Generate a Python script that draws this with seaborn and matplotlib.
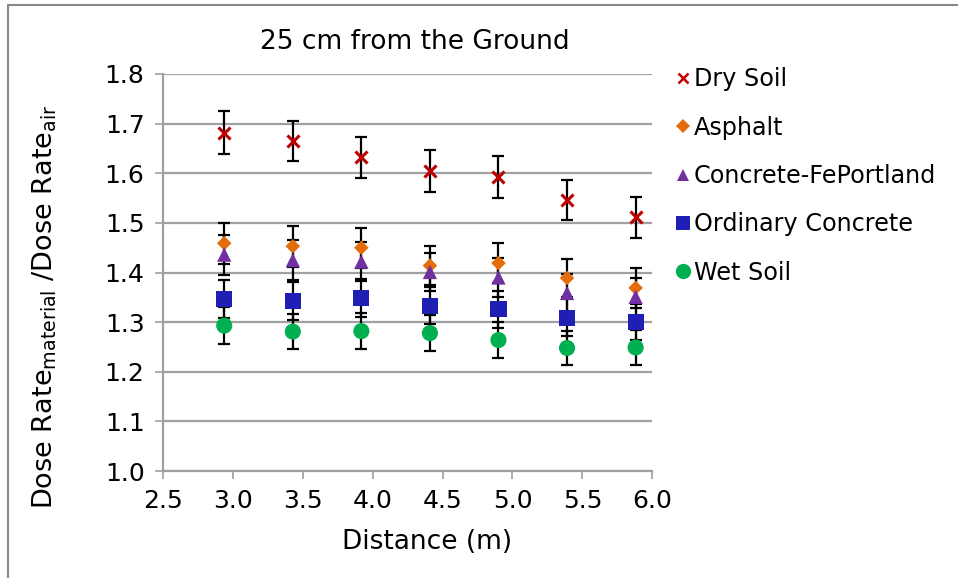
import matplotlib
matplotlib.use("Agg")
import matplotlib.pyplot as plt
from matplotlib.lines import Line2D
import seaborn as sns
import pandas as pd

distance = [2.94, 3.43, 3.92, 4.41, 4.90, 5.39, 5.88]
series_names = ["Dry Soil", "Asphalt", "Concrete-FePortland", "Ordinary Concrete", "Wet Soil"]
dry_soil = [1.682, 1.665, 1.632, 1.605, 1.593, 1.546, 1.511]
dry_soil_err = [0.043, 0.041, 0.041, 0.042, 0.042, 0.041, 0.042]
asphalt = [1.459, 1.453, 1.450, 1.414, 1.419, 1.389, 1.369]
asphalt_err = [0.041, 0.041, 0.040, 0.040, 0.040, 0.039, 0.040]
concrete_fe = [1.436, 1.425, 1.422, 1.401, 1.390, 1.359, 1.351]
concrete_fe_err = [0.040, 0.040, 0.040, 0.039, 0.039, 0.038, 0.038]
ordinary_concrete = [1.346, 1.342, 1.348, 1.333, 1.326, 1.309, 1.300]
ordinary_concrete_err = [0.038, 0.038, 0.038, 0.037, 0.037, 0.037, 0.036]
wet_soil = [1.293, 1.281, 1.282, 1.278, 1.264, 1.248, 1.249]
wet_soil_err = [0.037, 0.036, 0.037, 0.036, 0.036, 0.035, 0.036]

values = [dry_soil, asphalt, concrete_fe, ordinary_concrete, wet_soil]
errors = [dry_soil_err, asphalt_err, concrete_fe_err, ordinary_concrete_err, wet_soil_err]
colors = ["#C00000", "#E46C0A", "#7030A0", "#1F1FB4", "#00B050"]
markers = ["x", "D", "^", "s", "o"]
sizes = [75, 55, 105, 135, 135]

rows = []
for name, vals, errs in zip(series_names, values, errors):
    for d, v, e in zip(distance, vals, errs):
        rows.append({"Distance": d, "Value": v, "Err": e, "Material": name})
df = pd.DataFrame(rows)

sns.set_theme(style="white")
plt.rcParams["font.family"] = ["DejaVu Sans"]
plt.rcParams["mathtext.default"] = "regular"
for key in ["text.color", "axes.labelcolor", "xtick.labelcolor", "ytick.labelcolor"]:
    plt.rcParams[key] = "black"

fig = plt.figure(figsize=(9.58, 5.78), dpi=100)
ax = fig.add_axes([0.1698, 0.185, 0.5112, 0.687])

# error bars (drawn beneath markers)
for name in series_names:
    sub = df[df["Material"] == name]
    ax.errorbar(sub["Distance"], sub["Value"], yerr=sub["Err"], fmt="none",
                ecolor="black", elinewidth=1.6, capsize=4.5, capthick=1.6, zorder=2)

for name, c, m, s in zip(series_names, colors, markers, sizes):
    sub = df[df["Material"] == name]
    lw = 2.2 if m == "x" else 0
    sns.scatterplot(data=sub, x="Distance", y="Value", color=c, marker=m, s=s,
                    linewidth=lw, edgecolor=c if m == "x" else "none",
                    ax=ax, zorder=3, label=name, legend=False)

ax.set_xlim(2.5, 6.0)
ax.set_ylim(1.0, 1.8)
ax.set_xticks([2.5, 3.0, 3.5, 4.0, 4.5, 5.0, 5.5, 6.0])
ax.set_xticklabels(["2.5", "3.0", "3.5", "4.0", "4.5", "5.0", "5.5", "6.0"])
ax.set_yticks([1.0, 1.1, 1.2, 1.3, 1.4, 1.5, 1.6, 1.7, 1.8])
ax.set_yticklabels(["1.0", "1.1", "1.2", "1.3", "1.4", "1.5", "1.6", "1.7", "1.8"])
ax.yaxis.grid(True, color="#A0A0A0", linewidth=1.6)
ax.xaxis.grid(False)
ax.set_axisbelow(True)
for side in ["top", "right"]:
    ax.spines[side].set_visible(False)
for side in ["left", "bottom"]:
    ax.spines[side].set_color("#A0A0A0")
    ax.spines[side].set_linewidth(1.6)
ax.tick_params(axis="both", which="both", length=6, width=1.2, color="#A0A0A0",
               labelsize=18, labelcolor="black", direction="out",
               left=True, bottom=True, pad=7)

ax.set_title("25 cm from the Ground", fontsize=19, pad=18, x=0.515, color="black")
ax.set_xlabel("Distance (m)", fontsize=19)
ax.xaxis.set_label_coords(0.54, -0.145)
ax.set_ylabel("Dose Rate$_{material}$ /Dose Rate$_{air}$", fontsize=19.5)
ax.yaxis.set_label_coords(-0.212, 0.413)

handles = [Line2D([0], [0], marker=m, color="none", markerfacecolor=c,
                  markeredgecolor=c, markeredgewidth=(1.8 if m == "x" else 0),
                  markersize=ms, linestyle="none")
           for c, m, ms in zip(colors, markers, [7, 7.5, 8.5, 10, 11])]
fig.legend(handles, series_names, loc="upper left", bbox_to_anchor=(0.693, 0.900),
           frameon=False, fontsize=17.2, handlelength=0.8, handletextpad=0.05,
           labelspacing=1.02, borderaxespad=0)

# outer chart frame (top and left edges visible)
fig.add_artist(Line2D([8 / 958, 8 / 958], [0, 1 - 5 / 578], transform=fig.transFigure,
                      color="#888888", linewidth=1.5))
fig.add_artist(Line2D([8 / 958, 1], [1 - 5 / 578, 1 - 5 / 578], transform=fig.transFigure,
                      color="#888888", linewidth=1.5))

fig.savefig("out.png", dpi=100, facecolor="white")
